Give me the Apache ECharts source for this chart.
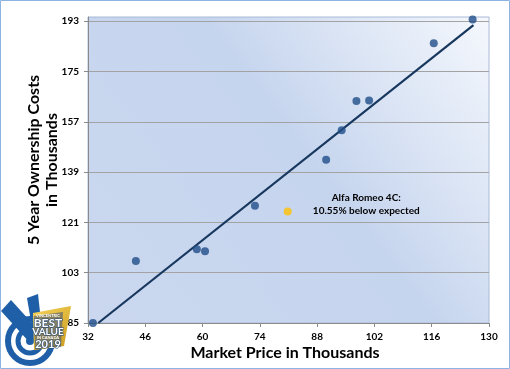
<!DOCTYPE html>
<html>
<head>
<meta charset="utf-8">
<script src="https://cdn.jsdelivr.net/npm/echarts@6/dist/echarts.min.js"></script>
<style>
html,body{margin:0;padding:0;background:#fff;}
#chart{width:510px;height:369px;}
</style>
</head>
<body>
<div id="chart"></div>
<script>
// ---- data ----
const xTickValues = [32, 46, 60, 74, 88, 102, 116, 130];
const yTickValues = [85, 103, 121, 139, 157, 175, 193];
const vehicleX = [33.2, 43.7, 58.6, 60.6, 72.8, 90.2, 94.0, 97.6, 100.7, 116.5, 126.0];
const vehicleY = [85.0, 107.2, 111.4, 110.7, 127.0, 143.4, 154.0, 164.4, 164.6, 185.1, 193.6];
const highlightX = [80.8];
const highlightY = [124.9];
const trendX = [34.5, 126.2];
const trendY = [85.0, 191.6];
const annotationLines = ['Alfa Romeo 4C:', '10.55% below expected'];
const xTitle = 'Market Price in Thousands';
const yTitleLines = ['5 Year Ownership Costs', 'in Thousands'];

const zip = (a, b) => a.map((v, i) => [v, b[i]]);

const chart = echarts.init(document.getElementById('chart'), null, {renderer: 'canvas'});
const FONT = 'Lato';

const option = {
  animation: false,
  backgroundColor: '#ffffff',
  grid: {
    left: 88, right: 21, top: 17, bottom: 46,
    show: true,
    borderColor: '#a9bad6',
    borderWidth: 1,
    backgroundColor: new echarts.graphic.LinearGradient(0, 1, 1, 0, [
      {offset: 0, color: '#cad7ef'},
      {offset: 0.55, color: '#c6d5ee'},
      {offset: 1, color: '#f5f8fd'}
    ])
  },
  xAxis: {
    type: 'value',
    min: xTickValues[0], max: xTickValues[xTickValues.length - 1],
    interval: xTickValues[1] - xTickValues[0],
    axisLine: {show: true, lineStyle: {color: '#8a8a8a', width: 1}},
    axisTick: {show: true, length: 4, lineStyle: {color: '#8a8a8a'}},
    axisLabel: {color: '#000', fontFamily: FONT, fontWeight: 'bold', fontSize: 10, margin: 9},
    splitLine: {show: false}
  },
  yAxis: {
    type: 'value',
    min: yTickValues[0], max: 194.5,
    interval: yTickValues[1] - yTickValues[0],
    axisLine: {show: true, lineStyle: {color: '#8a8a8a', width: 1}},
    axisTick: {show: true, length: 4, lineStyle: {color: '#8a8a8a'},
      customValues: yTickValues},
    axisLabel: {color: '#000', fontFamily: FONT, fontWeight: 'bold', fontSize: 10, margin: 9,
      customValues: yTickValues},
    splitLine: {show: true, lineStyle: {color: '#a3a3a3', width: 1.2}}
  },
  series: [
    {
      type: 'line',
      data: zip(trendX, trendY),
      symbol: 'none',
      lineStyle: {color: '#17375e', width: 2.2},
      z: 2
    },
    {
      type: 'scatter',
      data: zip(vehicleX, vehicleY),
      symbolSize: 8,
      itemStyle: {color: '#1f4d88'},
      z: 3
    },
    {
      type: 'scatter',
      data: zip(highlightX, highlightY),
      symbolSize: 8,
      itemStyle: {color: '#ffc000'},
      z: 3
    }
  ]
};
chart.setOption(option);

// annotation and titles
const annPos = chart.convertToPixel({gridIndex: 0}, [100, 127.5]);
const blue = '#1f5fa8';
const navy = '#24497a';
chart.setOption({
  graphic: [
    {type: 'rect', shape: {x: 0.5, y: 0.5, width: 509, height: 368}, style: {fill: 'none', stroke: '#8db3e2', lineWidth: 1}, silent: true, z: 0},
    {type: 'text', x: annPos[0], y: annPos[1], style: {text: annotationLines.join('\n'), fill: '#000', font: 'bold 10px ' + FONT, align: 'center', verticalAlign: 'middle', lineHeight: 13}, z: 10},
    {type: 'text', x: 285, y: 353, style: {text: xTitle, fill: '#000', font: 'bold 16px ' + FONT, align: 'center', verticalAlign: 'middle'}, z: 10},
    {type: 'text', x: 43, y: 160, rotation: Math.PI / 2, style: {text: yTitleLines.join('\n'), fill: '#000', font: 'bold 16px ' + FONT, align: 'center', verticalAlign: 'middle', lineHeight: 18}, z: 10},
    // badge
    {type: 'circle', shape: {cx: 30, cy: 341, r: 22}, style: {fill: '#ffffff', stroke: blue, lineWidth: 6}, z: 20},
    {type: 'circle', shape: {cx: 30, cy: 341, r: 12}, style: {fill: '#ffffff', stroke: blue, lineWidth: 5}, z: 20},
    {type: 'circle', shape: {cx: 30, cy: 341, r: 4}, style: {fill: blue}, z: 20},
    {type: 'polygon', shape: {points: [[1, 311], [11, 300], [41, 333], [31, 344]]}, style: {fill: blue}, z: 21},
    {type: 'polygon', shape: {points: [[27, 298], [38, 294], [42, 330], [33, 333]]}, style: {fill: blue}, z: 21},
    {type: 'polygon', shape: {points: [[33, 313], [71, 306], [64, 346], [34, 350]]},
      style: {fill: new echarts.graphic.LinearGradient(0, 0, 1, 1, [{offset: 0, color: '#f5d35a'}, {offset: 1, color: '#c99a1c'}])}, z: 22},
    {type: 'polygon', shape: {points: [[34, 316], [63, 312], [61, 347], [35, 349]]}, style: {fill: 'rgba(60,80,120,0.55)'}, z: 22},
    {type: 'text', x: 48, y: 316, style: {text: 'VINCENTRIC', fill: '#fff', font: 'bold 4px ' + FONT, align: 'center', verticalAlign: 'middle'}, z: 23},
    {type: 'text', x: 48, y: 323, style: {text: 'BEST', fill: '#fff', stroke: navy, lineWidth: 1, font: 'bold 12px ' + FONT, align: 'center', verticalAlign: 'middle'}, z: 23},
    {type: 'text', x: 48, y: 332, style: {text: 'VALUE', fill: '#fff', stroke: navy, lineWidth: 1, font: 'bold 10px ' + FONT, align: 'center', verticalAlign: 'middle'}, z: 23},
    {type: 'text', x: 48, y: 338, style: {text: 'IN CANADA', fill: '#fff', font: 'bold 4px ' + FONT, align: 'center', verticalAlign: 'middle'}, z: 23},
    {type: 'text', x: 48, y: 344, style: {text: '2019', fill: '#fff', stroke: navy, lineWidth: 1, font: 'bold 11px ' + FONT, align: 'center', verticalAlign: 'middle'}, z: 23}
  ]
});
</script>
</body>
</html>
